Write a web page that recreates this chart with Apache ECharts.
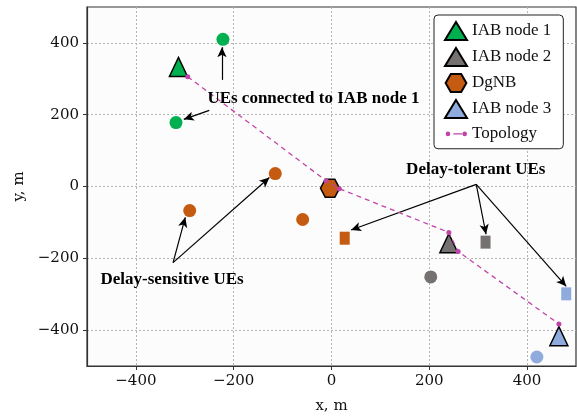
<!DOCTYPE html>
<html>
<head>
<meta charset="utf-8">
<script src="https://cdn.jsdelivr.net/npm/echarts@6/dist/echarts.min.js"></script>
<style>
  html, body { margin: 0; padding: 0; background: #ffffff; }
  #chart { width: 577px; height: 419px; }
</style>
</head>
<body>
<div id="chart"></div>
<script>
// Network layout (metres)
const iabNode1 = [[-313, 333]];
const iabNode2 = [[240, -158]];
const iabNode3 = [[465, -417]];
const dgnb = [[-3, -5]];

// UEs around each node
const uesIab1 = [[-222, 410], [-318, 178]];
const uesDgnbSensitive = [[-290, -67], [-115, 36], [-59, -92]];
const uesDgnbTolerant = [[27, -144]];
const uesIab2 = [[203, -252]];
const uesIab2Tolerant = [[315, -155]];
const uesIab3 = [[420, -475]];
const uesIab3Tolerant = [[480, -299]];

// Backhaul topology polyline
const topology = [[-294, 306], [-11, 16], [16, -6], [240, -128], [259, -181], [465, -383]];

// Axis ticks
const tickValues = [-400, -200, 0, 200, 400];

// Annotations: text, text anchor, arrow start, arrow targets
const annotations = [
  { text: 'UEs connected to IAB node 1', at: [-37, 244],
    from: [[-224, 297], [-250, 212]], to: [[-224, 388], [-302, 187]] },
  { text: 'Delay-sensitive UEs', at: [-326, -260],
    from: [[-324, -212], [-324, -212]], to: [[-299, -86], [-127, 25]] },
  { text: 'Delay-tolerant UEs', at: [295, 48],
    from: [[296, 6], [296, 6], [296, 6]], to: [[316, -133], [480, -278], [40, -121]] }
];

const C_GREEN = '#00b050';
const C_GRAY = '#767171';
const C_ORANGE = '#c55a11';
const C_BLUE = '#8faadc';
const C_TOPO = '#c044a8';

const hexagon = 'path://M-1 0L-0.5 -0.866L0.5 -0.866L1 0L0.5 0.866L-0.5 0.866Z';
// legend glyph for the topology line: dot, dash, dot (bounds fixed to 22x18)
const topoIcon = 'path://M0 0M22 18' +
  'M0.7 9a2.3 2.3 0 1 0 4.6 0a2.3 2.3 0 1 0 -4.6 0Z' +
  'M8.5 8.3H17.5V9.7H8.5Z' +
  'M17.7 9a2.3 2.3 0 1 0 4.6 0a2.3 2.3 0 1 0 -4.6 0Z';
const SERIF = "'Liberation Serif', 'Times New Roman', Times, serif";
const TICKFONT = "'DejaVu Serif', serif";

function ueSeries(data, color, symbol, size) {
  return {
    type: 'scatter', data: data, symbol: symbol, symbolSize: size,
    itemStyle: { color: color, opacity: 1 }, z: 3, silent: true
  };
}
function nodeSeries(name, data, color, symbol, size) {
  return {
    name: name, type: 'scatter', data: data, symbol: symbol, symbolSize: size,
    itemStyle: { color: color, borderColor: '#000', borderWidth: 1.5, opacity: 1 }, z: 4
  };
}

const arrowLines = [];
annotations.forEach(a => {
  a.from.forEach((f, i) => {
    arrowLines.push([{ coord: f }, { coord: a.to[i] }]);
  });
});

const series = [
  ueSeries(uesIab1, C_GREEN, 'circle', 13),
  ueSeries(uesDgnbSensitive, C_ORANGE, 'circle', 13),
  ueSeries(uesDgnbTolerant, C_ORANGE, 'rect', [10, 13]),
  ueSeries(uesIab2, C_GRAY, 'circle', 13),
  ueSeries(uesIab2Tolerant, C_GRAY, 'rect', [10, 13]),
  ueSeries(uesIab3, C_BLUE, 'circle', 13),
  ueSeries(uesIab3Tolerant, C_BLUE, 'rect', [10, 13]),
  nodeSeries('IAB node 1', iabNode1, C_GREEN, 'triangle', [18, 19]),
  nodeSeries('IAB node 2', iabNode2, C_GRAY, 'triangle', [18, 19]),
  nodeSeries('DgNB', dgnb, C_ORANGE, hexagon, [19, 18]),
  nodeSeries('IAB node 3', iabNode3, C_BLUE, 'triangle', [18, 19]),
  {
    name: 'Topology', type: 'line', data: topology,
    symbol: 'circle', symbolSize: 5, showSymbol: true,
    lineStyle: { color: C_TOPO, width: 1.3, type: [5, 4] },
    itemStyle: { color: C_TOPO, borderWidth: 0 }, z: 5
  },
  {
    // annotation arrows and text
    type: 'scatter', silent: true, z: 6,
    data: annotations.map(a => ({ value: a.at, label: { formatter: a.text } })),
    symbolSize: 1, itemStyle: { color: 'rgba(0,0,0,0)' },
    label: {
      show: true, position: 'inside', color: '#000',
      textBorderWidth: 0, opacity: 1,
      fontFamily: SERIF, fontWeight: 'bold', fontSize: 17
    },
    markLine: {
      silent: true, animation: false,
      symbol: ['none', 'arrow'], symbolSize: [7, 10],
      lineStyle: { color: '#000', width: 1.2, type: 'solid' },
      label: { show: false },
      data: arrowLines
    }
  }
];

const axisCommon = {
  type: 'value', min: -500, max: 500, interval: 200,
  axisLine: { show: true, onZero: false, lineStyle: { color: '#333', width: 1.2 } },
  axisTick: { show: true, length: 4, lineStyle: { color: '#333' },
    customValues: tickValues },
  axisLabel: {
    color: '#111', fontFamily: TICKFONT, fontSize: 15,
    customValues: tickValues,
    formatter: v => String(v).replace('-', '\u2212')
  },
  splitLine: { show: true, lineStyle: { color: '#b4b4b4', width: 1, type: [2, 2] } },
  nameLocation: 'middle',
  nameTextStyle: { color: '#111', fontFamily: TICKFONT, fontSize: 15 }
};

const chart = echarts.init(document.getElementById('chart'), null, { renderer: 'canvas' });
chart.setOption({
  animation: false,
  backgroundColor: '#ffffff',
  grid: {
    left: 87, right: 1, top: 7, bottom: 51,
    show: true, backgroundColor: '#fcfcfc', borderColor: '#333', borderWidth: 1.2
  },
  xAxis: Object.assign({}, axisCommon, { name: 'x, m', nameGap: 33 }),
  yAxis: Object.assign({}, axisCommon, { name: 'y, m', nameGap: 60 }),
  legend: {
    orient: 'vertical', left: 434, top: 15,
    data: ['IAB node 1', 'IAB node 2', 'DgNB', 'IAB node 3',
      { name: 'Topology', icon: topoIcon }],
    itemWidth: 22, itemHeight: 18, itemGap: 6,
    padding: [6, 12, 6, 10],
    backgroundColor: '#ffffff', borderColor: '#222', borderWidth: 1, borderRadius: 4,
    textStyle: { color: '#111', fontFamily: SERIF, fontSize: 17 }
  },
  series: series
});
</script>
</body>
</html>
